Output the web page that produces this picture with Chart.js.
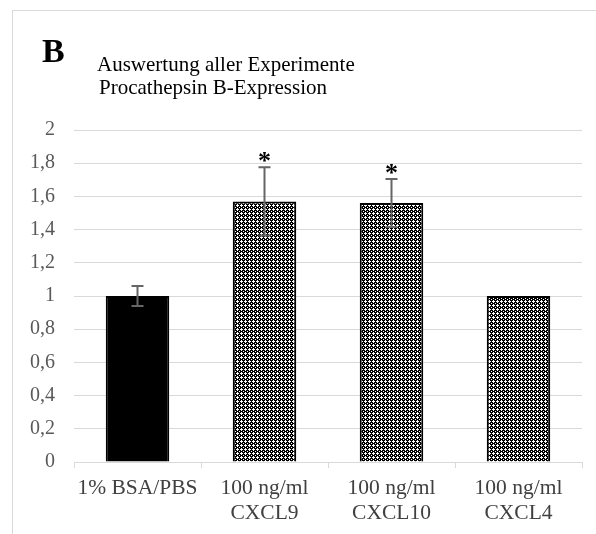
<!DOCTYPE html>
<html>
<head>
<meta charset="utf-8">
<script src="https://cdn.jsdelivr.net/npm/chart.js@4/dist/chart.umd.min.js"></script>
<style>
  html, body { margin: 0; padding: 0; background: #fff; }
  #frame { position: absolute; left: 12px; top: 10px; width: 700px; height: 700px; border: 1px solid #d9d9d9; }
  #wrap { position: absolute; left: 0; top: 0; width: 596px; height: 534px; }
</style>
</head>
<body>
<div id="frame"></div>
<div id="wrap"><canvas id="c" width="596" height="534"></canvas></div>
<script>
// ---- data ----
const categories = [['1% BSA/PBS'], ['100 ng/ml', 'CXCL9'], ['100 ng/ml', 'CXCL10'], ['100 ng/ml', 'CXCL4']];
const values = [1.0, 1.57, 1.56, 1.0];
const errors = [0.06, 0.205, 0.145, 0];
const significance = ['', '*', '*', ''];
const panelLetter = 'B';
const titleLines = ['Auswertung aller Experimente', 'Procathepsin B-Expression'];
const yMin = 0, yMax = 2, yStep = 0.2;

const SERIF = '"Liberation Serif", "Times New Roman", "DejaVu Serif", serif';

function makePattern(ctx) {
  const t = document.createElement('canvas');
  t.width = 4; t.height = 4;
  const g = t.getContext('2d');
  const rows = ['BWBB', 'WWWB', 'BWBB', 'BBBW'];
  for (let y = 0; y < 4; y++) for (let x = 0; x < 4; x++) {
    g.fillStyle = rows[y][x] === 'B' ? '#000' : '#fff';
    g.fillRect(x, y, 1, 1);
  }
  return ctx.createPattern(t, 'repeat');
}

const overlay = {
  id: 'overlay',
  afterDatasetsDraw(chart) {
    const ctx = chart.ctx;
    const xs = chart.scales.x, ys = chart.scales.y;
    ctx.save();
    values.forEach((v, i) => {
      const e = errors[i];
      const x = xs.getPixelForValue(i);
      if (e > 0) {
        const yt = ys.getPixelForValue(v + e), yb = ys.getPixelForValue(v - e);
        ctx.strokeStyle = '#666';
        ctx.lineWidth = 2;
        ctx.beginPath();
        ctx.moveTo(x, yt); ctx.lineTo(x, yb);
        ctx.moveTo(x - 6, yt); ctx.lineTo(x + 6, yt);
        ctx.moveTo(x - 6, yb); ctx.lineTo(x + 6, yb);
        ctx.stroke();
      }
      if (significance[i]) {
        const yt = ys.getPixelForValue(v + e);
        ctx.fillStyle = '#000';
        ctx.font = 'bold 26px ' + SERIF;
        ctx.textAlign = 'center';
        ctx.textBaseline = 'alphabetic';
        ctx.fillText(significance[i], x, yt + 2);
      }
    });
    ctx.fillStyle = '#000';
    ctx.textAlign = 'left';
    ctx.textBaseline = 'alphabetic';
    ctx.font = 'bold 34px ' + SERIF;
    ctx.fillText(panelLetter, 42, 62);
    ctx.font = '21px ' + SERIF;
    ctx.fillText(titleLines[0], 97, 71);
    ctx.fillText(titleLines[1], 99, 94);
    ctx.restore();
  }
};

function draw() {
  const ctx0 = document.getElementById('c').getContext('2d');
  const pat = makePattern(ctx0);
  new Chart(ctx0, {
    type: 'bar',
    data: {
      labels: categories,
      datasets: [{
        data: values,
        backgroundColor: ['#000', pat, pat, pat],
        borderColor: '#000',
        borderWidth: 2,
        barPercentage: 0.5,
        categoryPercentage: 1.0
      }]
    },
    options: {
      responsive: false,
      animation: false,
      layout: { padding: { top: 130, right: 14, left: 0, bottom: 0 } },
      plugins: { legend: { display: false }, tooltip: { enabled: false }, title: { display: false } },
      scales: {
        x: {
          offset: true,
          grid: { offset: true, drawOnChartArea: false, drawTicks: true, tickLength: 6, color: '#d9d9d9', lineWidth: 1 },
          border: { display: true, color: '#d9d9d9', width: 1 },
          ticks: { color: '#404040', font: { family: SERIF, size: 21.5, lineHeight: 1.17 }, padding: 8, maxRotation: 0, autoSkip: false },
          afterFit(s) { s.height = 72; }
        },
        y: {
          min: yMin, max: yMax,
          grid: { color: '#d9d9d9', lineWidth: 1, drawTicks: false },
          border: { display: false },
          ticks: {
            stepSize: yStep,
            padding: 19,
            color: '#595959',
            font: { family: SERIF, size: 20 },
            callback: v => String(Math.round(v * 10) / 10).replace('.', ',')
          },
          afterFit(s) { s.width = 74; }
        }
      }
    },
    plugins: [overlay]
  });
}

Promise.all([
  document.fonts.load('20px "Liberation Serif"'),
  document.fonts.load('bold 34px "Liberation Serif"')
]).then(draw, draw);
</script>
</body>
</html>
